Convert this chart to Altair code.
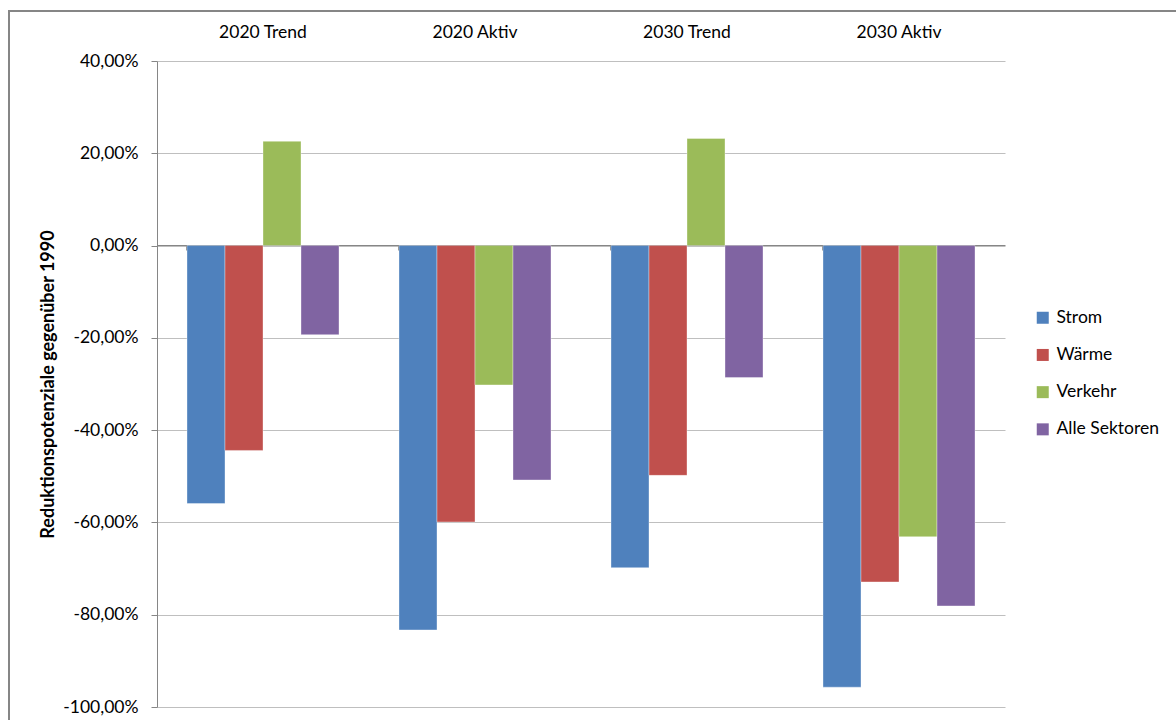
import altair as alt
import pandas as pd

categories = ["2020 Trend", "2020 Aktiv", "2030 Trend", "2030 Aktiv"]
series = ["Strom", "Wärme", "Verkehr", "Alle Sektoren"]
colors = ["#4F81BD", "#C0504D", "#9BBB59", "#8064A2"]

strom = [-0.559, -0.833, -0.698, -0.957]
waerme = [-0.444, -0.599, -0.498, -0.729]
verkehr = [0.226, -0.302, 0.232, -0.631]
alle = [-0.193, -0.508, -0.286, -0.781]
y_ticks = [-1.0, -0.8, -0.6, -0.4, -0.2, 0.0, 0.2, 0.4]

rows = []
for s, vals in zip(series, [strom, waerme, verkehr, alle]):
    for c, v in zip(categories, vals):
        rows.append({"Kategorie": c, "Sektor": s, "Wert": v})
df = pd.DataFrame(rows)
cat_df = pd.DataFrame({"Kategorie": categories})

FONT = "Lato"
GRAY = "#868686"
FS = 17.5

xscale = alt.Scale(domain=categories, paddingInner=0.283, paddingOuter=0.1415)

bars = alt.Chart(df).mark_bar(stroke="#ffffff", strokeOpacity=0.35, strokeWidth=1).encode(
    x=alt.X("Kategorie:N", sort=categories, scale=xscale,
            axis=alt.Axis(orient="bottom", offset=-462, labels=False, title=None,
                          ticks=True, tickSize=5, tickColor=GRAY, bandPosition=0,
                          domain=True, domainColor=GRAY, domainWidth=1, grid=False)),
    xOffset=alt.XOffset("Sektor:N", sort=series,
                        scale=alt.Scale(paddingInner=0, paddingOuter=0)),
    y=alt.Y("Wert:Q", scale=alt.Scale(domain=[-1.0, 0.4], nice=False, zero=False),
            axis=alt.Axis(values=y_ticks, title="Reduktionspotenziale gegenüber 1990",
                          labelExpr="replace(replace(format(datum.value, '.2%'), '.', ','), '\u2212', '-')",
                          labelFontSize=FS, labelFont=FONT, labelColor="#000000",
                          labelPadding=13, tickSize=6, tickColor=GRAY,
                          domainColor=GRAY, domainWidth=1,
                          gridColor="#BFBFBF", gridWidth=1,
                          titleFont=FONT, titleFontSize=18, titleFontWeight="bold",
                          titleColor="#000000", titlePadding=5)),
    color=alt.Color("Sektor:N", sort=series,
                    scale=alt.Scale(domain=series, range=colors),
                    legend=alt.Legend(orient="none", legendX=877, legendY=248,
                                      title=None, symbolType="square", symbolSize=144,
                                      symbolStrokeWidth=0, labelFontSize=FS,
                                      labelFont=FONT, labelColor="#000000",
                                      labelOffset=5, rowPadding=18.2, padding=0)),
)

toplabels = alt.Chart(cat_df).mark_point(opacity=0).encode(
    x=alt.X("Kategorie:N", sort=categories, scale=xscale,
            axis=alt.Axis(orient="top", labels=True, ticks=False, domain=False,
                          title=None, labelFontSize=FS, labelFont=FONT,
                          labelColor="#000000", labelPadding=20, labelAngle=0)),
    y=alt.Y(datum=0, axis=None),
)

border = alt.Chart(pd.DataFrame({"a": [0]})).mark_rect(
    fill="transparent", stroke=GRAY, strokeWidth=2
).encode(
    x=alt.value(-148), x2=alt.value(1300), y=alt.value(-50), y2=alt.value(900)
)

chart = alt.layer(bars, toplabels, border).resolve_axis(
    x="independent", y="independent"
).properties(
    width=848, height=646,
    padding={"left": 157, "top": 61, "right": 171, "bottom": 13},
    autosize=alt.AutoSizeParams(type="none"),
    background="#ffffff",
).configure_view(strokeWidth=0)

chart.save("out.html", embed_options={"renderer": "svg", "actions": False})
